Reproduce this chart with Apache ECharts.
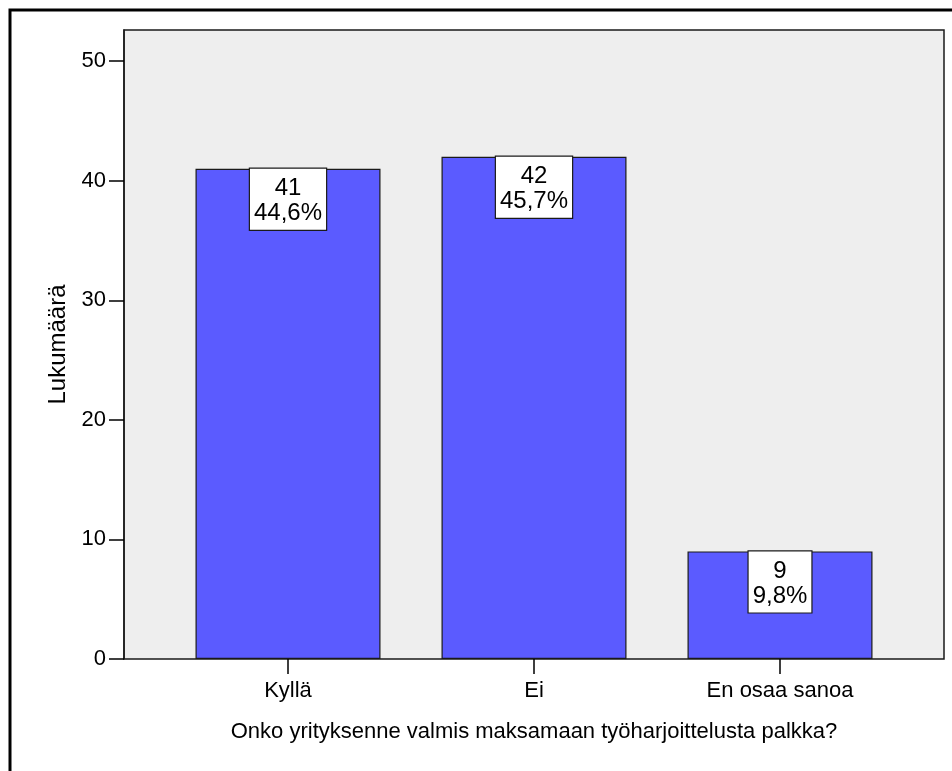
<!DOCTYPE html>
<html>
<head>
<meta charset="utf-8">
<script src="https://cdn.jsdelivr.net/npm/echarts@6/dist/echarts.min.js"></script>
<style>
  html, body { margin: 0; padding: 0; background: #fff; }
  #chart { width: 952px; height: 771px; }
</style>
</head>
<body>
<div id="chart"></div>
<script>
// Answers to the survey question
const categories = ['Kyllä', 'Ei', 'En osaa sanoa'];
const counts = [41, 42, 9];
const percents = ['44,6%', '45,7%', '9,8%'];
const yTicks = [0, 10, 20, 30, 40, 50];
const xTitle = 'Onko yrityksenne valmis maksamaan työharjoittelusta palkka?';
const yTitle = 'Lukumäärä';

const FONT = '"Liberation Sans", Arial, sans-serif';
const Y_MAX = 52.6;

const chart = echarts.init(document.getElementById('chart'), null, { renderer: 'canvas' });

chart.setOption({
  backgroundColor: '#ffffff',
  animation: false,
  textStyle: { fontFamily: FONT },
  graphic: [{
    type: 'rect',
    shape: { x: 10, y: 10, width: 3000, height: 3000 },
    style: { fill: 'none', stroke: '#000', lineWidth: 3 },
    silent: true
  }],
  grid: [
    { // frame with grey background and count axis
      left: 124, right: 8, top: 30, bottom: 112,
      show: true, backgroundColor: '#eeeeee', borderColor: '#1a1a1a', borderWidth: 1.5,
      containLabel: false, outerBoundsMode: 'none'
    },
    { // inner band holding the bars
      left: 165, right: 49, top: 30, bottom: 112,
      containLabel: false, outerBoundsMode: 'none'
    }
  ],
  xAxis: [
    {
      gridIndex: 0, type: 'value', min: 0, max: 1,
      axisLine: { show: false }, axisTick: { show: false },
      axisLabel: { show: false }, splitLine: { show: false }
    },
    {
      gridIndex: 1, type: 'category', data: categories,
      axisLine: { show: false },
      axisTick: { show: true, alignWithLabel: true, length: 15, lineStyle: { color: '#000', width: 1.5 } },
      axisLabel: { color: '#000', fontSize: 22, fontFamily: FONT, margin: 21 },
      name: xTitle, nameLocation: 'middle', nameGap: 62,
      nameTextStyle: { color: '#000', fontSize: 22, fontFamily: FONT }
    }
  ],
  yAxis: [
    {
      gridIndex: 0, type: 'value', min: 0, max: Y_MAX,
      axisLine: { show: true, lineStyle: { color: '#1a1a1a', width: 1.5 } },
      axisTick: { show: true, length: 15, customValues: yTicks, lineStyle: { color: '#000', width: 1.5 } },
      axisLabel: { color: '#000', fontSize: 22, fontFamily: FONT, margin: 18, customValues: yTicks },
      splitLine: { show: false },
      name: yTitle, nameLocation: 'middle', nameGap: 49, nameRotate: 90,
      nameTextStyle: { color: '#000', fontSize: 24, fontFamily: FONT }
    },
    {
      gridIndex: 1, type: 'value', min: 0, max: Y_MAX, show: false
    }
  ],
  series: [{
    type: 'bar',
    xAxisIndex: 1, yAxisIndex: 1,
    data: counts,
    barWidth: 185,
    itemStyle: { color: '#5b5bff', borderColor: '#1a1a1a', borderWidth: 1.2 },
    label: {
      show: true,
      position: 'insideTop',
      distance: 0,
      formatter: (p) => counts[p.dataIndex] + '\n' + percents[p.dataIndex],
      color: '#000',
      fontSize: 24,
      lineHeight: 25,
      fontFamily: FONT,
      align: 'center',
      backgroundColor: '#ffffff',
      borderColor: '#1a1a1a',
      borderWidth: 1.2,
      padding: [7, 4, 4, 4]
    }
  }]
});
</script>
</body>
</html>
